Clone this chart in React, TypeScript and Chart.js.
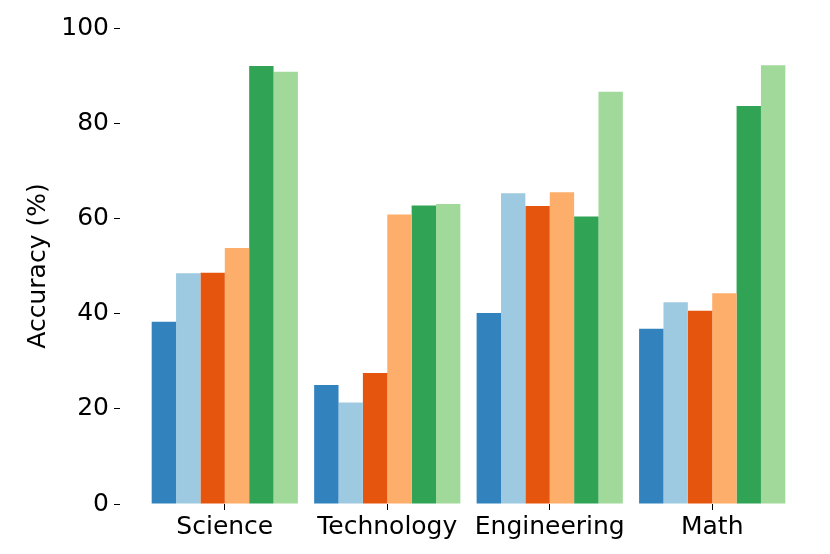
import { useEffect, useRef } from "react";
import { Chart, registerables } from "chart.js";

Chart.register(...registerables);

const categories = ["Science", "Technology", "Engineering", "Math"];
const seriesNames = ["Series 1", "Series 2", "Series 3", "Series 4", "Series 5", "Series 6"];
const series1 = [38.3, 25.0, 40.1, 36.8];
const series2 = [48.5, 21.3, 65.3, 42.4];
const series3 = [48.6, 27.5, 62.6, 40.6];
const series4 = [53.8, 60.8, 65.5, 44.3];
const series5 = [92.0, 62.7, 60.4, 83.6];
const series6 = [90.8, 63.0, 86.6, 92.2];
const colors = ["#3182bd", "#9ecae1", "#e6550d", "#fdae6b", "#31a354", "#a1d99b"];

const font = { family: "'DejaVu Sans', sans-serif", size: 25 };

const App = () => {
  const chartRef = useRef<HTMLCanvasElement | null>(null);

  useEffect(() => {
    if (!chartRef.current) return;
    const allSeries = [series1, series2, series3, series4, series5, series6];
    const chart = new Chart(chartRef.current, {
      type: "bar",
      data: {
        datasets: allSeries.map((values, s) => ({
          label: seriesNames[s],
          data: values.map((v, i) => ({ x: i, y: v })),
          backgroundColor: colors[s],
          borderWidth: 0,
        })),
      },
      options: {
        responsive: false,
        animation: false,
        devicePixelRatio: 1,
        layout: { padding: { top: 28, right: 13, left: 0, bottom: 0 } },
        plugins: {
          legend: { display: false },
          tooltip: { enabled: false },
        },
        datasets: {
          bar: { categoryPercentage: 0.9, barPercentage: 1.0 },
        },
        scales: {
          x: {
            type: "linear",
            min: -0.645,
            max: 3.645,
            offset: false,
            afterBuildTicks: (scale: any) => {
              scale.ticks = categories.map((_, i) => ({ value: i }));
            },
            afterFit: (scale: any) => {
              scale.height = 50;
            },
            ticks: {
              callback: (v: any) => categories[v as number] ?? "",
              autoSkip: false,
              maxRotation: 0,
              font,
              color: "#000",
              padding: 2,
            },
            grid: {
              drawOnChartArea: false,
              tickLength: 6,
              color: "#000",
              offset: false,
            },
            border: { display: false },
          },
          y: {
            min: 0,
            max: 100,
            ticks: { stepSize: 20, font, color: "#000", padding: 5 },
            grid: { drawOnChartArea: false, tickLength: 6, color: "#000" },
            border: { display: false },
            title: {
              display: true,
              text: "Accuracy (%)",
              font,
              color: "#000",
              padding: { top: 23, bottom: 0 },
            },
            afterFit: (scale: any) => {
              scale.width = 120;
            },
          },
        },
      },
    });
    return () => {
      chart.destroy();
    };
  }, []);

  return (
    <div style={{ position: "absolute", left: 0, top: 0 }}>
      <canvas ref={chartRef} width={830} height={554} />
    </div>
  );
};

export default App;
